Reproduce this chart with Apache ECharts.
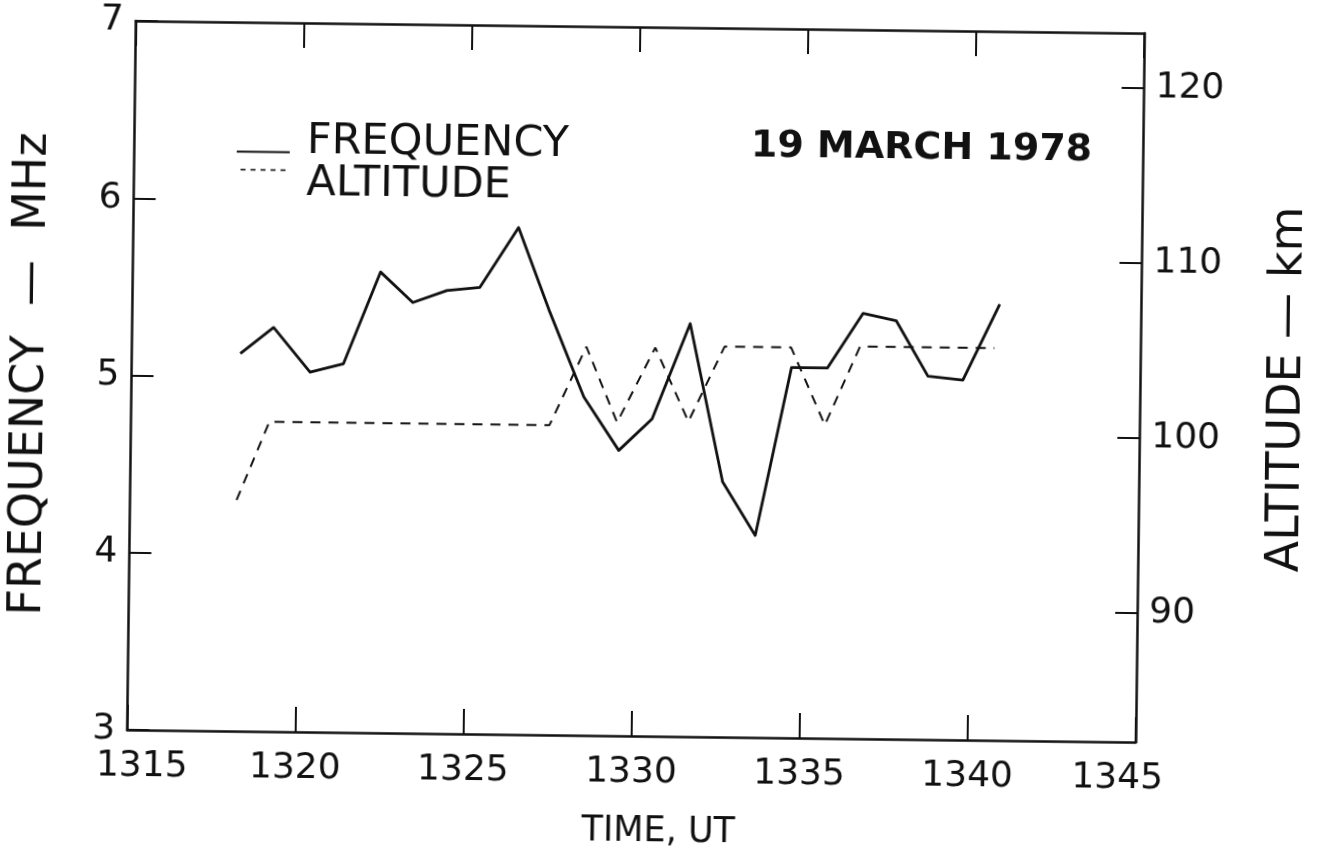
<!DOCTYPE html>
<html>
<head>
<meta charset="utf-8">
<title>19 MARCH 1978</title>
<script src="https://cdn.jsdelivr.net/npm/echarts@6/dist/echarts.min.js"></script>
<style>
  html, body { margin: 0; padding: 0; background: #ffffff; }
  #chart {
    width: 1319px; height: 860px; background: #ffffff;
    /* the printed sheet sits very slightly askew */
    transform: rotate(0.7deg); transform-origin: 637px 380px;
  }
</style>
</head>
<body>
<div id="chart"></div>
<script>
// Sporadic-E sounding, 19 March 1978: critical frequency and layer altitude vs time (UT)
const freqTimes = [1318.23, 1319.21, 1320.31, 1321.30, 1322.37, 1323.34, 1324.35, 1325.33,
                   1326.46, 1327.39, 1328.46, 1329.52, 1330.50, 1331.60, 1332.62, 1333.61,
                   1334.63, 1335.70, 1336.74, 1337.73, 1338.69, 1339.73, 1340.80];
const freqMHz   = [5.13, 5.28, 5.03, 5.08, 5.60, 5.43, 5.50, 5.52,
                   5.86, 5.40, 4.91, 4.61, 4.79, 5.33, 4.44, 4.14,
                   5.09, 5.09, 5.40, 5.36, 5.05, 5.03, 5.46];

const altTimes  = [1318.17, 1319.12, 1327.45, 1328.52, 1329.46, 1330.57,
                   1331.58, 1332.63, 1334.61, 1335.64, 1336.66, 1340.66];
const altKm     = [95.8, 100.3, 100.3, 104.8, 100.5, 104.8,
                   100.6, 104.9, 104.9, 100.5, 105.0, 105.0];

const timeTicks = [1315, 1320, 1325, 1330, 1335, 1340, 1345];
const freqTicks = [3, 4, 5, 6, 7];
const altTicks  = [90, 100, 110, 120];

const FONT = 'DejaVu Sans';
const INK = '#111111';

const pairs = (xs, ys) => xs.map((x, i) => [x, ys[i]]);

const chart = echarts.init(document.getElementById('chart'), null, { renderer: 'canvas' });

const axisLine = { show: true, lineStyle: { color: INK, width: 2.5 } };
const tickStyle = { color: INK, width: 2 };

chart.setOption({
  animation: false,
  backgroundColor: '#ffffff',
  title: {
    text: '19 MARCH 1978',
    left: 748, top: 126, padding: 0,
    textStyle: { fontFamily: FONT, fontSize: 38, fontWeight: 'bold', color: INK }
  },
  grid: { left: 131.5, right: 176.5, top: 27, bottom: 124, containLabel: false },
  xAxis: [
    {
      type: 'value', position: 'bottom',
      min: timeTicks[0], max: timeTicks[timeTicks.length - 1], interval: 5,
      name: 'TIME, UT', nameLocation: 'middle', nameGap: 78,
      nameTextStyle: { fontFamily: FONT, fontSize: 35, color: INK, padding: [0, 0, 0, 56] },
      axisLine: axisLine,
      axisTick: { show: true, inside: true, length: 25, lineStyle: tickStyle },
      splitLine: { show: false },
      axisLabel: {
        margin: 19, color: INK, fontFamily: FONT, fontSize: 36,
        formatter: v => v === timeTicks[0] ? '{first|' + v + '}'
                      : v === timeTicks[timeTicks.length - 1] ? '{last|' + v + '}' : String(v),
        rich: {
          first: { fontFamily: FONT, fontSize: 36, color: INK, padding: [0, 0, 0, 30] },
          last:  { fontFamily: FONT, fontSize: 36, color: INK, padding: [0, 36, 0, 0] }
        }
      }
    },
    {
      type: 'value', position: 'top',
      min: timeTicks[0], max: timeTicks[timeTicks.length - 1], interval: 5,
      axisLine: axisLine,
      axisTick: { show: true, inside: true, length: 25, lineStyle: tickStyle },
      axisLabel: { show: false },
      splitLine: { show: false }
    }
  ],
  yAxis: [
    {
      type: 'value', position: 'left',
      min: freqTicks[0], max: freqTicks[freqTicks.length - 1], interval: 1,
      name: 'FREQUENCY  —  MHz', nameLocation: 'middle', nameGap: 77, nameRotate: 90,
      nameTextStyle: { fontFamily: FONT, fontSize: 46, color: INK },
      axisLine: axisLine,
      axisTick: { show: true, inside: true, length: 22, lineStyle: tickStyle },
      axisLabel: { margin: 12, color: INK, fontFamily: FONT, fontSize: 36 },
      splitLine: { show: false }
    },
    {
      type: 'value', position: 'right',
      min: 82.6, max: 123.1,
      name: 'ALTITUDE — km', nameLocation: 'middle', nameGap: 125, nameRotate: 90,
      nameTextStyle: { fontFamily: FONT, fontSize: 46, color: INK },
      axisLine: axisLine,
      axisTick: { show: true, inside: true, length: 22, customValues: altTicks, lineStyle: tickStyle },
      axisLabel: { margin: 12, color: INK, fontFamily: FONT, fontSize: 36, customValues: altTicks },
      splitLine: { show: false }
    }
  ],
  graphic: [
    { type: 'line', shape: { x1: 234, y1: 156.5, x2: 287, y2: 156.5 },
      style: { stroke: INK, lineWidth: 2.2 }, z: 10 },
    { type: 'line', shape: { x1: 238, y1: 174.5, x2: 287, y2: 174.5 },
      style: { stroke: INK, lineWidth: 1.6, lineDash: [5, 5] }, z: 10 },
    { type: 'text', x: 304, y: 146,
      style: { text: 'FREQUENCY', fontFamily: FONT, fontSize: 43, fill: INK, verticalAlign: 'middle' }, z: 10 },
    { type: 'text', x: 304, y: 188,
      style: { text: 'ALTITUDE', fontFamily: FONT, fontSize: 43, fill: INK, verticalAlign: 'middle' }, z: 10 }
  ],
  series: [
    {
      name: 'FREQUENCY', type: 'line', xAxisIndex: 0, yAxisIndex: 0,
      data: pairs(freqTimes, freqMHz),
      symbol: 'none', smooth: false,
      lineStyle: { color: INK, width: 2.8, join: 'round' }
    },
    {
      name: 'ALTITUDE', type: 'line', xAxisIndex: 0, yAxisIndex: 1,
      data: pairs(altTimes, altKm),
      symbol: 'none', smooth: false,
      lineStyle: { color: INK, width: 2, type: [10, 8] }
    }
  ]
});
</script>
</body>
</html>
